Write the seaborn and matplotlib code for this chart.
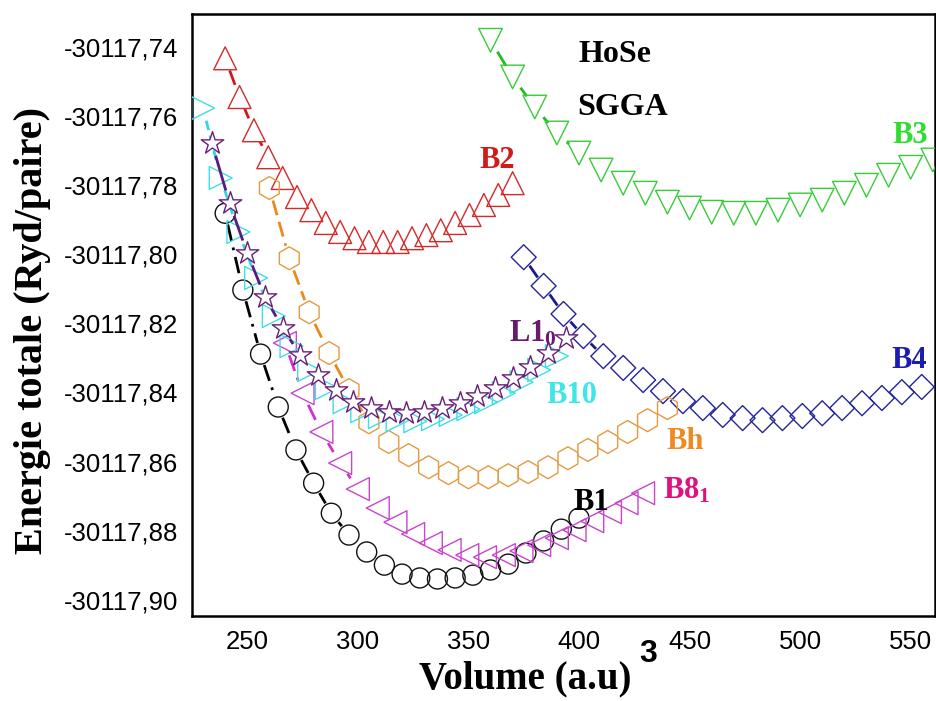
import numpy as np
import matplotlib
matplotlib.use("Agg")
import matplotlib.pyplot as plt
import seaborn as sns
from matplotlib import font_manager
from matplotlib.ticker import FixedLocator, FuncFormatter

# ---------------------------------------------------------------------------
# HoSe, SGGA: total energy (Ryd/pair) versus volume (a.u.^3) for each phase
# ---------------------------------------------------------------------------
vol_B1 = [240, 248, 256, 264, 272, 280, 288, 296, 304, 312, 320,
          328, 336, 344, 352, 360, 368, 376, 384, 392, 400]
e_B1 = [-30117.7882, -30117.8104, -30117.8289, -30117.8442, -30117.8566,
        -30117.8662, -30117.8749, -30117.8812, -30117.8861, -30117.8899,
        -30117.8925, -30117.8936, -30117.8939, -30117.8936, -30117.8928,
        -30117.8913, -30117.8896, -30117.8864, -30117.8829, -30117.8795,
        -30117.8763]

vol_B2 = [240, 246.5, 253, 259.5, 266, 272.5, 279, 285.5, 292, 298.5, 305,
          311.5, 318, 324.5, 331, 337.5, 344, 350.5, 357, 363.5, 370]
e_B2 = [-30117.7434, -30117.7546, -30117.7642, -30117.7720, -30117.7780,
        -30117.7835, -30117.7873, -30117.7910, -30117.7936, -30117.7954,
        -30117.7965, -30117.7965, -30117.7965, -30117.7954, -30117.7945,
        -30117.7931, -30117.7910, -30117.7887, -30117.7858, -30117.7829,
        -30117.7795]

vol_B3 = [360, 370, 380, 390, 400, 410, 420, 430, 440, 450, 460,
          470, 480, 490, 500, 510, 520, 530, 540, 550, 560]
e_B3 = [-30117.7382, -30117.7488, -30117.7575, -30117.7650, -30117.7708,
        -30117.7757, -30117.7795, -30117.7824, -30117.7850, -30117.7867,
        -30117.7879, -30117.7882, -30117.7882, -30117.7873, -30117.7858,
        -30117.7844, -30117.7824, -30117.7801, -30117.7772, -30117.7749,
        -30117.7728]

vol_B4 = [375, 384, 393, 402, 411, 420, 429, 438, 447, 456, 465,
          474, 483, 492, 501, 510, 519, 528, 537, 546, 555]
e_B4 = [-30117.8009, -30117.8092, -30117.8173, -30117.8237, -30117.8295,
        -30117.8329, -30117.8364, -30117.8396, -30117.8425, -30117.8445,
        -30117.8465, -30117.8474, -30117.8480, -30117.8474, -30117.8468,
        -30117.8460, -30117.8445, -30117.8431, -30117.8416, -30117.8399,
        -30117.8384]

vol_Bh = [260, 269, 278, 287, 296, 305, 314, 323, 332, 341, 350,
          359, 368, 377, 386, 395, 404, 413, 422, 431, 440]
e_Bh = [-30117.7809, -30117.8012, -30117.8168, -30117.8286, -30117.8393,
        -30117.8486, -30117.8543, -30117.8581, -30117.8616, -30117.8633,
        -30117.8645, -30117.8645, -30117.8639, -30117.8630, -30117.8616,
        -30117.8590, -30117.8566, -30117.8543, -30117.8514, -30117.8480,
        -30117.8445]

vol_B81 = [267, 275, 283.5, 292, 300, 309, 317, 325, 333, 341.5, 349.5,
           357.5, 366, 374, 382, 390, 398, 406, 414, 421.5, 429]
e_B81 = [-30117.8257, -30117.8402, -30117.8514, -30117.8604, -30117.8679,
         -30117.8734, -30117.8775, -30117.8809, -30117.8835, -30117.8855,
         -30117.8870, -30117.8876, -30117.8870, -30117.8858, -30117.8841,
         -30117.8821, -30117.8798, -30117.8772, -30117.8746, -30117.8720,
         -30117.8691]

vol_B10 = [230, 238, 246, 254, 262, 270, 278, 286, 294, 302, 310,
           318, 326, 334, 342, 350, 358, 366, 374, 382, 390]
e_B10 = [-30117.7578, -30117.7780, -30117.7936, -30117.8069, -30117.8179,
         -30117.8266, -30117.8335, -30117.8387, -30117.8428, -30117.8454,
         -30117.8471, -30117.8480, -30117.8483, -30117.8477, -30117.8465,
         -30117.8448, -30117.8428, -30117.8402, -30117.8370, -30117.8335,
         -30117.8295]

vol_L10 = [234, 242, 250, 258, 266, 274, 282, 290, 298, 306, 314,
           322, 330, 338, 346, 354, 362, 370, 378, 386, 394]
e_L10 = [-30117.7679, -30117.7853, -30117.7997, -30117.8124, -30117.8214,
         -30117.8292, -30117.8350, -30117.8393, -30117.8428, -30117.8445,
         -30117.8457, -30117.8460, -30117.8457, -30117.8445, -30117.8431,
         -30117.8410, -30117.8387, -30117.8358, -30117.8327, -30117.8286,
         -30117.8243]

x_major = [250, 300, 350, 400, 450, 500, 550]
x_minor = [275, 325, 375, 425, 475, 525]
y_major = [-30117.90, -30117.88, -30117.86, -30117.84, -30117.82,
           -30117.80, -30117.78, -30117.76, -30117.74]
y_minor = [-30117.89, -30117.87, -30117.85, -30117.83, -30117.81,
           -30117.79, -30117.77, -30117.75]

# ---------------------------------------------------------------------------
sns.set_style("white")
installed = {f.name for f in font_manager.fontManager.ttflist}
tick_family = "Liberation Sans Narrow" if "Liberation Sans Narrow" in installed else "Liberation Sans"
tick_size = 21 if tick_family == "Liberation Sans Narrow" else 18.5
plt.rcParams["font.family"] = ["Liberation Serif", "DejaVu Serif"]
plt.rcParams["text.color"] = "black"
plt.rcParams["axes.labelcolor"] = "black"
plt.rcParams["xtick.color"] = "black"
plt.rcParams["ytick.color"] = "black"
plt.rcParams["mathtext.fontset"] = "custom"
plt.rcParams["mathtext.rm"] = "Liberation Serif:bold"
plt.rcParams["mathtext.bf"] = "Liberation Serif:bold"
plt.rcParams["mathtext.it"] = "Liberation Serif:bold"

fig = plt.figure(figsize=(9.36, 7.01), dpi=100)
ax = fig.add_axes([192 / 936, 85 / 701, 743 / 936, 602 / 701])
ax.set_xlim(225, 561)
ax.set_ylim(-30117.9046, -30117.7306)

# name, volumes, energies, marker, size(pt), edge, face, line colour, dashes, z
phases = [
    ("B1", vol_B1, e_B1, "o", 14.4, "#111111", "none", "#000000", (6, 2.5, 1, 2.5), 3),
    ("B2", vol_B2, e_B2, "^", 16.5, "#D42A2A", "none", "#D01818", (6, 2.5, 1, 2.5), 3),
    ("B3", vol_B3, e_B3, "v", 17.0, "#38CC38", "none", "#22BB22", (6, 2.5, 1, 2.5), 3),
    ("B4", vol_B4, e_B4, "D", 12.7, "#24249A", "none", "#1A1A90", (6, 2.5, 1, 2.5), 3),
    ("Bh", vol_Bh, e_Bh, "h", 16.5, "#E39A40", "none", "#E88A1C", (5.5, 2.5), 3),
    ("B81", vol_B81, e_B81, "<", 16.5, "#C845CC", "none", "#D030D0", (6, 2.5, 1, 2.5), 4),
    ("B10", vol_B10, e_B10, ">", 16.5, "#40DDE6", "none", "#30D8E0", (3.5, 2), 5),
    ("L10", vol_L10, e_L10, "*", 17.0, "#6A1F78", "white", "#5A1A80", None, 6),
]


def gapped_segments(xs, ys, gap_px):
    """Connecting segments shortened so they stop at each symbol's edge."""
    pts = ax.transData.transform(np.column_stack([xs, ys]))
    inv = ax.transData.inverted()
    segs = []
    for p, q in zip(pts[:-1], pts[1:]):
        d = q - p
        length = np.hypot(d[0], d[1])
        if length > 2 * gap_px + 3:
            u = d / length
            segs.append(inv.transform(np.array([p + u * gap_px, q - u * gap_px])))
    return segs


for name, xs, ys, mk, msize, edge, face, lcol, dash, z in phases:
    gap = msize * 100 / 72 / 2 + 1.5
    for seg in gapped_segments(xs, ys, gap):
        kw = dict(color=lcol, lw=2.0, zorder=z - 0.5, solid_capstyle="butt",
                  dash_capstyle="butt")
        if dash is not None:
            kw["dashes"] = dash
        ax.plot(seg[:, 0], seg[:, 1], **kw)
    sns.scatterplot(x=xs, y=ys, ax=ax, marker=mk, s=msize ** 2,
                    facecolor=face, edgecolor=edge, linewidth=1.0,
                    zorder=z, legend=False, clip_on=True)

# axes, ticks and labels
for sp in ax.spines.values():
    sp.set_linewidth(1.8)
    sp.set_color("black")
ax.xaxis.set_major_locator(FixedLocator(x_major))
ax.xaxis.set_minor_locator(FixedLocator(x_minor))
ax.yaxis.set_major_locator(FixedLocator(y_major))
ax.yaxis.set_minor_locator(FixedLocator(y_minor))
ax.yaxis.set_major_formatter(FuncFormatter(lambda v, _: f"{v:.2f}".replace(".", ",")))
ax.xaxis.set_major_formatter(FuncFormatter(lambda v, _: f"{v:.0f}"))
ax.tick_params(axis="both", which="major", direction="in", length=10, width=1.8,
               labelsize=tick_size, pad=10, top=False, right=False,
               colors="black", labelcolor="black")
ax.tick_params(axis="both", which="minor", direction="in", length=5.5, width=1.8,
               top=False, right=False, colors="black")
for lab in ax.get_xticklabels() + ax.get_yticklabels():
    lab.set_family([tick_family, "DejaVu Sans"])

ax.set_xlabel("Volume (a.u)", fontsize=28, fontweight="bold", color="black")
ax.xaxis.set_label_coords(0.449, -0.1195)
ax.xaxis.label.set_va("baseline")
ax.set_ylabel("Energie totale (Ryd/paire)", fontsize=29, fontweight="bold",
              color="black")
ax.yaxis.set_label_coords(-0.2153, 0.475)
ax.yaxis.label.set_va("center")
fig.text(639 / 936, 1 - 662 / 701, "3", fontsize=23, fontweight="bold",
         family=["Liberation Sans", "DejaVu Sans"], ha="left", va="baseline",
         color="black")

# annotations
t = ax.transAxes
ax.text(0.5693, 0.9203, "HoSe", transform=t, fontsize=23, fontweight="bold",
        ha="center", va="baseline", color="black")
ax.text(0.5801, 0.8322, "SGGA", transform=t, fontsize=23, fontweight="bold",
        ha="center", va="baseline", color="black")
labels = [
    (0.4105, 0.7442, "B2", "#D11A1A", "center"),
    (0.9664, 0.7857, "B3", "#2EDD2E", "center"),
    (0.9650, 0.4120, "B4", "#1C1CB0", "center"),
    (0.4266, 0.4568, r"L1$_\mathrm{0}$", "#6A1A6E", "left"),
    (0.5114, 0.3538, "B10", "#3EE6E6", "center"),
    (0.6635, 0.2774, "Bh", "#EE8A22", "center"),
    (0.6339, 0.1960, r"B8$_\mathrm{1}$", "#E0117F", "left"),
    (0.5370, 0.1761, "B1", "#000000", "center"),
]
for fx, fy, s, c, ha in labels:
    ax.text(fx, fy, s, transform=t, fontsize=22, fontweight="bold", color=c,
            ha=ha, va="baseline", zorder=10)

fig.savefig("out.png", dpi=100)
